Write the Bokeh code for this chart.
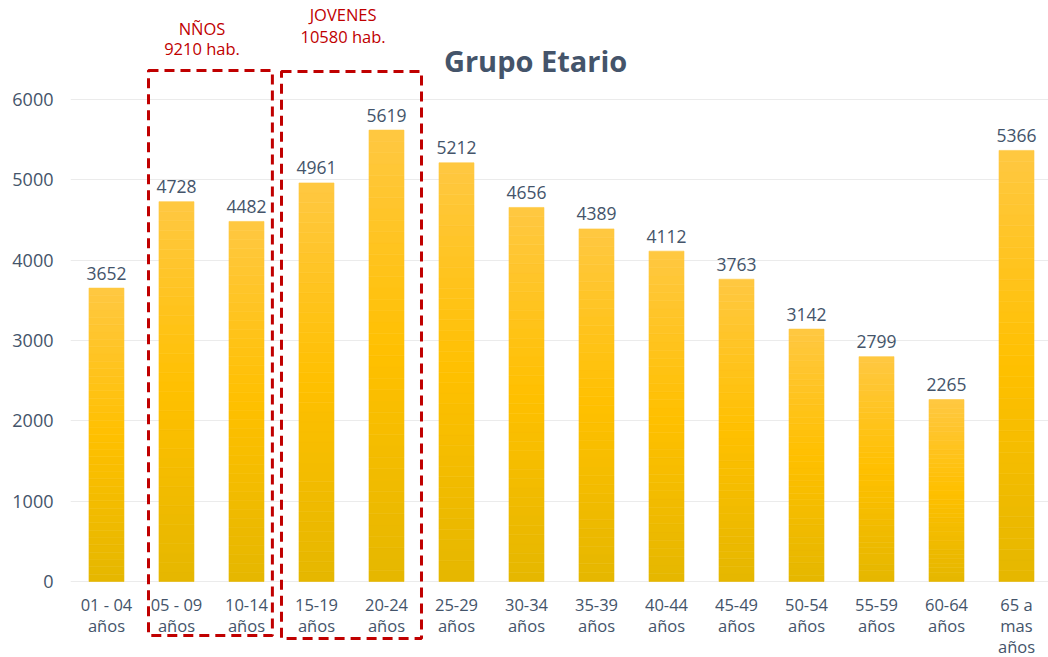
import numpy as np
from bokeh.plotting import figure
from bokeh.models import ColumnDataSource, Range1d, FixedTicker, Label
from bokeh.core.properties import value
from bokeh.embed import file_html
from bokeh.resources import INLINE

# ---------------- data ----------------
categories = ["01 - 04\naños", "05 - 09\naños", "10-14\naños", "15-19\naños",
              "20-24\naños", "25-29\naños", "30-34\naños", "35-39\naños",
              "40-44\naños", "45-49\naños", "50-54\naños", "55-59\naños",
              "60-64\naños", "65 a\nmas\naños"]
values = [3652, 4728, 4482, 4961, 5619, 5212, 4656, 4389, 4112, 3763, 3142, 2799, 2265, 5366]
y_ticks = [0, 1000, 2000, 3000, 4000, 5000, 6000]
title_text = "Grupo Etario"
group_names = ["NÑOS", "JOVENES"]
group_totals = ["9210 hab.", "10580 hab."]
group_first = [1, 3]
group_last = [2, 4]

# ---------------- styles ----------------
FONT = "Open Sans"
TXT = "#44546A"
RED = "#C00000"

xs = np.arange(len(values))

p = figure(width=1048, height=657, output_backend="svg", toolbar_location=None,
           x_axis_location=None, y_axis_location="left",
           x_range=Range1d(-0.514, 13.457), y_range=Range1d(-946, 7232),
           min_border_left=70, min_border_right=0, min_border_top=0, min_border_bottom=0)
p.outline_line_color = None
p.background_fill_color = "white"
p.border_fill_color = "white"

# y axis
p.yaxis.ticker = FixedTicker(ticks=y_ticks)
p.yaxis.axis_line_color = None
p.yaxis.major_tick_line_color = None
p.yaxis.minor_tick_line_color = None
p.yaxis.major_label_standoff = 11
p.yaxis.major_label_text_font = FONT
p.yaxis.major_label_text_font_size = "18px"
p.yaxis.major_label_text_color = TXT
p.ygrid.ticker = FixedTicker(ticks=y_ticks)
p.ygrid.grid_line_color = "#EBEBEB"
p.ygrid.grid_line_width = 1
p.xgrid.visible = False

# gradient bars (stacked thin slices of each bar)
N = 40
def grad(f):
    c0 = np.array([229, 183, 0]); c1 = np.array([255, 192, 0]); c2 = np.array([255, 200, 66])
    if f < 0.5:
        c = c0 + (c1 - c0) * (f / 0.5)
    else:
        c = c1 + (c2 - c1) * ((f - 0.5) / 0.5)
    return "#%02x%02x%02x" % tuple(int(round(v)) for v in c)

sx, sb, st, sc = [], [], [], []
for i, v in enumerate(values):
    for k in range(N):
        sx.append(i); sb.append(v * k / N); st.append(v * (k + 1) / N)
        sc.append(grad((k + 0.5) / N))
bars = ColumnDataSource(dict(x=sx, bottom=sb, top=st, color=sc))
p.vbar(x="x", bottom="bottom", top="top", width=0.5, fill_color="color",
       line_color="color", line_width=0.6, source=bars)

# value labels
src = ColumnDataSource(dict(x=xs, y=values, lab=[str(v) for v in values], cat=categories))
p.text(x="x", y="y", text="lab", source=src, text_align="center", text_baseline="alphabetic",
       y_offset=-15, text_font=value(FONT), text_font_size="17.5px", text_color=TXT)

# category labels
p.text(x="x", y=0, text="cat", source=src, text_align="center", text_baseline="top",
       y_offset=11, text_font=value(FONT), text_font_size="16.5px", text_color=TXT,
       text_line_height=0.93)

# title
p.add_layout(Label(x=6.13, y=6486, text=title_text, text_align="center", text_baseline="middle",
                   text_font=FONT, text_font_size="29px", text_font_style="bold", text_color=TXT))

# group boxes
pad_l = [0.4, 0.5]; pad_r = [0.37, 0.5]
tops = [6361, 6349]; bots = [-672, -710]
off1 = [-42, -57]; off2 = [-22, -35]
for g in range(len(group_names)):
    l = group_first[g] - pad_l[g]; r = group_last[g] + pad_r[g]
    p.quad(left=[l], right=[r], top=[tops[g]], bottom=[bots[g]], fill_color=None,
           line_color=RED, line_width=3, line_dash="10 6")
    cx = (l + r) / 2 - 0.12
    p.text(x=[cx], y=[tops[g]], text=[group_names[g]], text_align="center", text_baseline="middle",
           y_offset=off1[g], text_font=value(FONT), text_font_size="16.5px", text_color=RED)
    p.text(x=[cx], y=[tops[g]], text=[group_totals[g]], text_align="center", text_baseline="middle",
           y_offset=off2[g], text_font=value(FONT), text_font_size="16.5px", text_color=RED)

open("out.html", "w").write(file_html(p, INLINE))
